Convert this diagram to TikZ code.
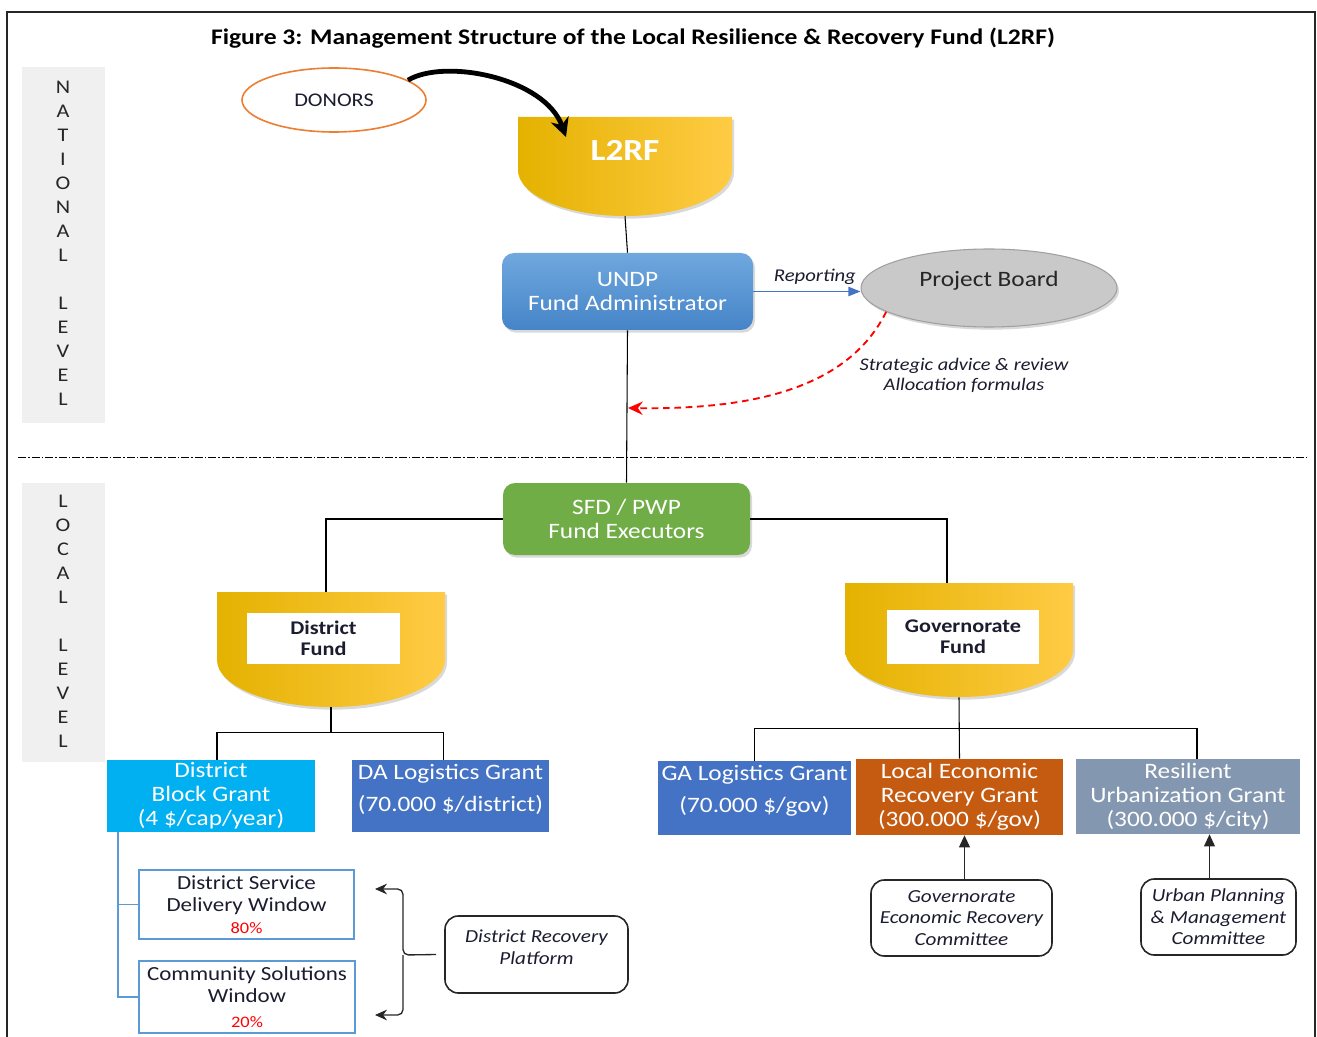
\documentclass[tikz,border=0pt]{standalone}
\usepackage{fontspec}
\setmainfont{Carlito}[FakeStretch=1.15]
\usetikzlibrary{fit,shadows,calc,arrows.meta,shapes.geometric}
\definecolor{gL}{HTML}{E4B200}
\definecolor{gM}{HTML}{FFC000}
\definecolor{gR}{HTML}{FFCB45}
\definecolor{panelgrey}{HTML}{F0F0F0}
\definecolor{donorc}{HTML}{ED7D31}
\definecolor{undptop}{HTML}{70A8DE}
\definecolor{undpbot}{HTML}{4584C8}
\definecolor{sfdgreen}{HTML}{70AD47}
\definecolor{pbgrey}{HTML}{C9C9C9}
\definecolor{pbedge}{HTML}{A0A0A0}
\definecolor{cyanbox}{HTML}{00B0F0}
\definecolor{bluebox}{HTML}{4472C4}
\definecolor{orangebox}{HTML}{C55A11}
\definecolor{slatebox}{HTML}{8497B0}
\definecolor{winblue}{HTML}{5B9BD5}
\definecolor{darktext}{HTML}{1C1C30}
\newcommand\fsz[2]{\fontsize{#1}{#2}\selectfont}
\newcommand\fundshape[5]{%
  \path[gradfund] (#1,#2) -- (#3,#2) -- (#3,#4)
    arc[start angle=0,end angle=180,x radius={(#3-#1)/2},y radius={#5-#4}] -- cycle;}
% box node from corner coordinates (in px): style, x1, y1, x2, y2, name
\newcommand\boxat[6]{\node[#1, minimum width={(#4-#2)*0.75pt}, minimum height={(#5-#3)*0.75pt}] (#6) at ({(#2+#4)/2},{(#3+#5)/2})}
\begin{document}
\begin{tikzpicture}[x=0.75pt,y=-0.75pt,
  gradfund/.style={left color=gL, middle color=gM, right color=gR,
    drop shadow={opacity=0.3,shadow xshift=1.5pt,shadow yshift=-2pt}},
  sq/.style={inner sep=0pt, align=center},
  rbox/.style={sq, rounded corners=9pt},
  conn/.style={draw=black, line width=0.8pt},
  grantbox/.style={sq, text=white, font=\fsz{16.5}{18}},
  winbox/.style={sq, draw=winblue, line width=1.6pt, font=\fsz{15}{16.5}, text=darktext},
  cmte/.style={sq, draw=black!85, line width=1.2pt, rounded corners=10pt, font=\itshape\fsz{13.8}{16}, text=darktext},
  panel/.style={sq, fill=panelgrey},
  lvl/.style={align=center, font=\fsz{14.5}{18}, text=black!85},
  innerbox/.style={sq, fill=white, font=\bfseries\fsz{14.5}{15.75}, text=darktext},
  shadowed/.style={drop shadow={opacity=0.3,shadow xshift=1.5pt,shadow yshift=-2pt}}
]
\useasboundingbox (0,0) rectangle (1317,1037);
% frame
\draw[line width=1.5pt, black!85] (7,1040) -- (7,12) -- (1315,12) -- (1315,1040);
% title
\node[font=\bfseries\fsz{16.7}{19}] (title) at (633,38) {Figure 3: Management Structure of the Local Resilience \& Recovery Fund (L2RF)};
% level panels
\node[panel, fit={(22,67) (105,423)}] (natpanel) {};
\node[lvl] (natlbl) at (63,243) {N\\A\\T\\I\\O\\N\\A\\L\\[18pt]L\\E\\V\\E\\L};
\node[panel, fit={(22,483) (105,762)}] (locpanel) {};
\node[lvl] (loclbl) at (63,621) {L\\O\\C\\A\\L\\[18pt]L\\E\\V\\E\\L};
% separator
\draw[line width=0.7pt, dash pattern=on 6pt off 1.5pt on 1.2pt off 1.5pt] (18,457) -- (1307,457);

% donors
\node[ellipse, draw=donorc, line width=1.2pt, minimum width=138pt, minimum height=48pt, inner sep=0pt,
      font=\fsz{14.5}{16}, text=darktext] (donors) at (334,100) {DONORS};

% L2RF
\fundshape{518}{117}{732}{170}{216}
\node[sq, fit={(518,117) (732,216)}] (l2rf) {};
\node[font=\bfseries\fsz{23}{26}, text=white] (l2rftxt) at (625,150) {L2RF};
\coordinate (l2rfin) at (566,137);
\draw[line width=3.6pt, -{Stealth[length=14pt,width=14pt]}] (donors.15) .. controls (445,58) and (545,78) .. (l2rfin);

% UNDP
\boxat{rbox, top color=undptop, bottom color=undpbot, shadowed, text=white, font=\fsz{16.5}{18}}{502}{253}{753}{330}{undp} {UNDP\\Fund Administrator};
% Project board
\node[ellipse, fill=pbgrey, draw=pbedge, line width=0.8pt, minimum width=192pt, minimum height=58.5pt,
      inner sep=0pt, text depth=13pt, shadowed, font=\fsz{16.5}{18}, text=black!85] (pb) at (989,288) {Project Board};
\draw[draw=bluebox, line width=1pt, -{Triangle[length=9pt,width=7pt]}]
  (undp.east) -- node[above=1pt, xshift=6pt, font=\itshape\fsz{13.5}{15}, text=darktext] (replbl) {Reporting} (undp.east -| pb.west);

% SFD
\boxat{rbox, fill=sfdgreen, shadowed, text=white, font=\fsz{16.5}{18}}{503}{483}{750}{555}{sfd} {SFD / PWP\\Fund Executors};

% vertical trunk
\draw[conn] (l2rf.south) -- (undp.north);
\draw[conn] (undp.south) -- (sfd.north);

% strategic advice
\coordinate (advend) at (628,408);
\draw[red, line width=1.4pt, dash pattern=on 5pt off 3.5pt, -{Stealth[length=11pt,width=10pt]}]
  (pb.193) .. controls (850,385) and (760,410) .. (advend);
\node[align=center, font=\itshape\fsz{13.3}{15}, text=darktext] (advlbl) at (964,375) {Strategic advice \& review\\Allocation formulas};

% District fund
\fundshape{217}{592}{445}{660}{707}
\node[sq, fit={(217,592) (445,707)}] (df) {};
\boxat{innerbox}{247}{613}{400}{664}{dfin} {District\\Fund};
% Governorate fund
\fundshape{845}{583}{1073}{650}{697}
\node[sq, fit={(845,583) (1073,697)}] (gf) {};
\boxat{innerbox}{887}{610}{1039}{664}{gfin} {Governorate\\Fund};

\draw[conn] (sfd.west) -| ($(df.north)+(-5,0)$);
\draw[conn] (sfd.east) -| ($(gf.north)+(-12,0)$);

% grants
\boxat{grantbox, fill=cyanbox}{107}{760}{315}{832}{dbg} {District\\Block Grant\\(4 \$/cap/year)};
\boxat{grantbox, fill=bluebox}{352}{760}{549}{832}{dag} {DA Logistics Grant\\[6pt](70.000 \$/district)\\[-6pt]\mbox{}};
\boxat{grantbox, fill=bluebox}{658}{761}{851}{835}{ga} {GA Logistics Grant\\[6pt](70.000 \$/gov)\\[-4pt]\mbox{}};
\boxat{grantbox, fill=orangebox}{856}{759}{1063}{835}{ler} {Local Economic\\Recovery Grant\\(300.000 \$/gov)};
\boxat{grantbox, fill=slatebox}{1076}{759}{1300}{834}{rug} {Resilient\\Urbanization Grant\\(300.000 \$/city)};

% district bus
\draw[conn] (df.south) -- (df.south |- 0,733);
\draw[conn] ($(dbg.north)+(6,0)$) -- ++(0,-27) -| ($(dag.north)+(-7,0)$);
% governorate bus
\draw[conn] (gf.south) -- (ler.north);
\draw[conn] (ga.north) -- ++(0,-32) -| ($(rug.north)+(9,0)$);

% committees
\boxat{cmte}{871}{880}{1052}{956}{gerc} {Governorate\\Economic Recovery\\Committee};
\boxat{cmte}{1141}{879}{1296}{955}{upmc} {Urban Planning\\\& Management\\Committee};
\draw[black!85, line width=1.2pt, -{Triangle[length=9pt,width=8pt]}] ($(gerc.north)+(3,0)$) -- ($(gerc.north |- ler.south)+(3,0)$);
\draw[black!85, line width=1.2pt, -{Triangle[length=9pt,width=8pt]}] ($(upmc.north)+(-9,0)$) -- ($(upmc.north |- rug.south)+(-9,0)$);

% windows
\boxat{winbox}{139}{870}{354}{939}{dsd} {District Service\\Delivery Window\\{\color{red}\fsz{12}{13}80\%}};
\boxat{winbox}{139}{961}{355}{1033}{csw} {Community Solutions\\Window\\[2pt]{\color{red}\fsz{12}{13}20\%}};
\coordinate (trunk) at (118,832);
\draw[winblue, line width=0.9pt] (trunk) |- (dsd.west);
\draw[winblue, line width=0.9pt] (trunk) |- (csw.west);

% district recovery platform
\boxat{cmte}{445}{916}{628}{993}{drp} {District Recovery\\Platform\\[-5pt]\mbox{}};
\coordinate (bmid) at (403,955);
\coordinate (btop) at (375,889);
\coordinate (bbot) at (375,1015);
\draw[black!85, line width=1pt, rounded corners=4pt, -{Stealth[length=9pt,width=8pt]}] ($(drp.west)+(-8,0)$) -- (bmid) |- (btop);
\draw[black!85, line width=1pt, rounded corners=4pt, -{Stealth[length=9pt,width=8pt]}] (bmid) |- (bbot);
\end{tikzpicture}
\end{document}
